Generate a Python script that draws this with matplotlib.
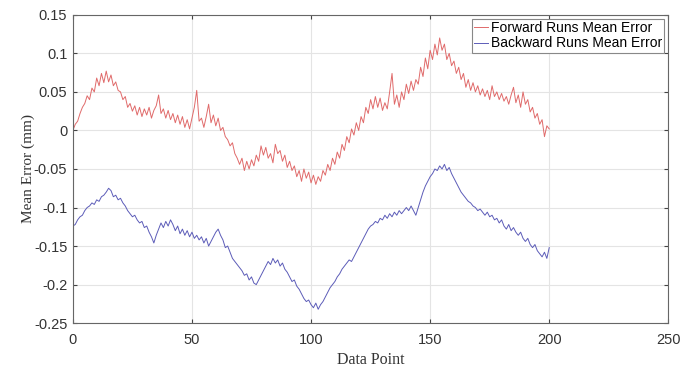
import numpy as np
import matplotlib
matplotlib.use('Agg')
import matplotlib.pyplot as plt

plt.rcParams['font.family'] = ['Liberation Sans', 'DejaVu Sans']
plt.rcParams['axes.unicode_minus'] = False

# 数据：每个数据点的平均误差 (mm)
forward_err = [
    0.000, 0.008, 0.012, 0.022, 0.030, 0.035, 0.045, 0.040, 0.055, 0.050,
    0.068, 0.058, 0.074, 0.062, 0.077, 0.063, 0.072, 0.058, 0.063, 0.052,
    0.050, 0.040, 0.044, 0.030, 0.035, 0.025, 0.032, 0.020, 0.030, 0.018,
    0.028, 0.020, 0.030, 0.016, 0.026, 0.032, 0.046, 0.022, 0.028, 0.016,
    0.026, 0.014, 0.022, 0.010, 0.020, 0.008, 0.018, 0.004, 0.014, 0.002,
    0.016, 0.030, 0.052, 0.012, 0.016, 0.004, 0.018, 0.034, 0.010, 0.020,
    0.006, 0.016, 0.000, 0.004, -0.008, -0.012, -0.020, -0.016, -0.030, -0.036,
    -0.044, -0.036, -0.052, -0.040, -0.050, -0.038, -0.046, -0.032, -0.040, -0.020,
    -0.032, -0.022, -0.036, -0.030, -0.042, -0.018, -0.030, -0.026, -0.040, -0.032,
    -0.048, -0.040, -0.052, -0.046, -0.060, -0.052, -0.066, -0.050, -0.062, -0.054,
    -0.068, -0.058, -0.070, -0.060, -0.066, -0.052, -0.058, -0.044, -0.052, -0.036,
    -0.044, -0.028, -0.036, -0.018, -0.026, -0.008, -0.016, 0.002, -0.006, 0.010,
    0.000, 0.018, 0.010, 0.030, 0.022, 0.040, 0.028, 0.044, 0.030, 0.042,
    0.026, 0.036, 0.028, 0.050, 0.074, 0.034, 0.046, 0.030, 0.050, 0.040,
    0.060, 0.048, 0.064, 0.052, 0.066, 0.060, 0.082, 0.070, 0.094, 0.080,
    0.104, 0.092, 0.112, 0.098, 0.120, 0.104, 0.112, 0.092, 0.100, 0.084,
    0.090, 0.074, 0.082, 0.066, 0.074, 0.056, 0.066, 0.052, 0.062, 0.050,
    0.058, 0.046, 0.054, 0.044, 0.052, 0.040, 0.058, 0.044, 0.050, 0.040,
    0.048, 0.038, 0.044, 0.034, 0.046, 0.056, 0.036, 0.046, 0.030, 0.050,
    0.034, 0.040, 0.024, 0.030, 0.016, 0.022, 0.008, 0.014, -0.008, 0.006,
    0.002,
]
backward_err = [
    -0.124, -0.122, -0.116, -0.112, -0.110, -0.104, -0.100, -0.098, -0.094, -0.096,
    -0.090, -0.092, -0.086, -0.084, -0.080, -0.075, -0.078, -0.086, -0.084, -0.090,
    -0.088, -0.094, -0.098, -0.104, -0.108, -0.112, -0.110, -0.116, -0.120, -0.118,
    -0.126, -0.124, -0.132, -0.138, -0.146, -0.136, -0.128, -0.120, -0.126, -0.118,
    -0.124, -0.116, -0.122, -0.130, -0.124, -0.134, -0.128, -0.136, -0.130, -0.138,
    -0.132, -0.140, -0.136, -0.142, -0.138, -0.146, -0.140, -0.150, -0.144, -0.138,
    -0.132, -0.128, -0.136, -0.142, -0.152, -0.150, -0.158, -0.166, -0.170, -0.174,
    -0.178, -0.182, -0.188, -0.186, -0.194, -0.190, -0.198, -0.200, -0.194, -0.188,
    -0.182, -0.176, -0.170, -0.174, -0.166, -0.172, -0.168, -0.176, -0.172, -0.180,
    -0.184, -0.190, -0.196, -0.194, -0.202, -0.206, -0.212, -0.218, -0.222, -0.220,
    -0.226, -0.230, -0.224, -0.232, -0.226, -0.222, -0.216, -0.210, -0.204, -0.200,
    -0.196, -0.190, -0.186, -0.180, -0.176, -0.172, -0.168, -0.170, -0.164, -0.158,
    -0.152, -0.146, -0.140, -0.134, -0.128, -0.124, -0.122, -0.118, -0.120, -0.114,
    -0.116, -0.110, -0.114, -0.108, -0.112, -0.106, -0.110, -0.104, -0.108, -0.104,
    -0.100, -0.104, -0.098, -0.104, -0.110, -0.100, -0.090, -0.080, -0.072, -0.066,
    -0.060, -0.056, -0.050, -0.052, -0.046, -0.050, -0.044, -0.052, -0.048, -0.056,
    -0.062, -0.068, -0.074, -0.080, -0.084, -0.088, -0.092, -0.094, -0.098, -0.100,
    -0.104, -0.102, -0.106, -0.110, -0.106, -0.112, -0.110, -0.116, -0.114, -0.120,
    -0.116, -0.124, -0.128, -0.122, -0.130, -0.126, -0.132, -0.136, -0.132, -0.140,
    -0.144, -0.140, -0.148, -0.152, -0.148, -0.156, -0.160, -0.164, -0.158, -0.166,
    -0.152,
]
x_ticks = [0, 50, 100, 150, 200, 250]
y_ticks = [-0.25, -0.2, -0.15, -0.1, -0.05, 0, 0.05, 0.1, 0.15]

x = np.arange(len(forward_err))

fig = plt.figure(figsize=(6.94, 3.71), dpi=100)
ax = fig.add_axes([0.105, 0.129, 0.858, 0.831])
ax.plot(x, forward_err, color='#e06a6a', linewidth=0.7, label='Forward Runs Mean Error')
ax.plot(x, backward_err, color='#5c5cb8', linewidth=0.7, label='Backward Runs Mean Error')

ax.set_xlim(0, 250)
ax.set_ylim(-0.25, 0.15)
ax.set_xticks(x_ticks)
ax.set_yticks(y_ticks)
ax.set_yticklabels([f'{v:g}' for v in y_ticks])
ax.tick_params(direction='in', top=True, right=True, labelsize=10.5, length=3,
               colors='#444444', labelcolor='#333333')
ax.tick_params(axis='x', pad=7)
ax.tick_params(axis='y', pad=4)
ax.grid(True, color='#e4e4e4', linewidth=0.8)
for s in ax.spines.values():
    s.set_color('#666666')
    s.set_linewidth(0.8)

ax.set_xlabel('Data Point', family='Liberation Serif', fontsize=11.5,
              color='#333333', labelpad=4)
ax.set_ylabel('Mean Error (mm)', family='Liberation Serif', fontsize=11,
              color='#333333')
ax.yaxis.set_label_coords(-0.063, 0.5)

leg = ax.legend(loc='upper right', fontsize=10, fancybox=False, handlelength=1.0,
                borderpad=0.15, labelspacing=0.1, handletextpad=0.2,
                borderaxespad=0.3, framealpha=1)
leg.get_frame().set_edgecolor('#888888')
leg.get_frame().set_linewidth(0.8)

fig.savefig('out.png', dpi=100)
